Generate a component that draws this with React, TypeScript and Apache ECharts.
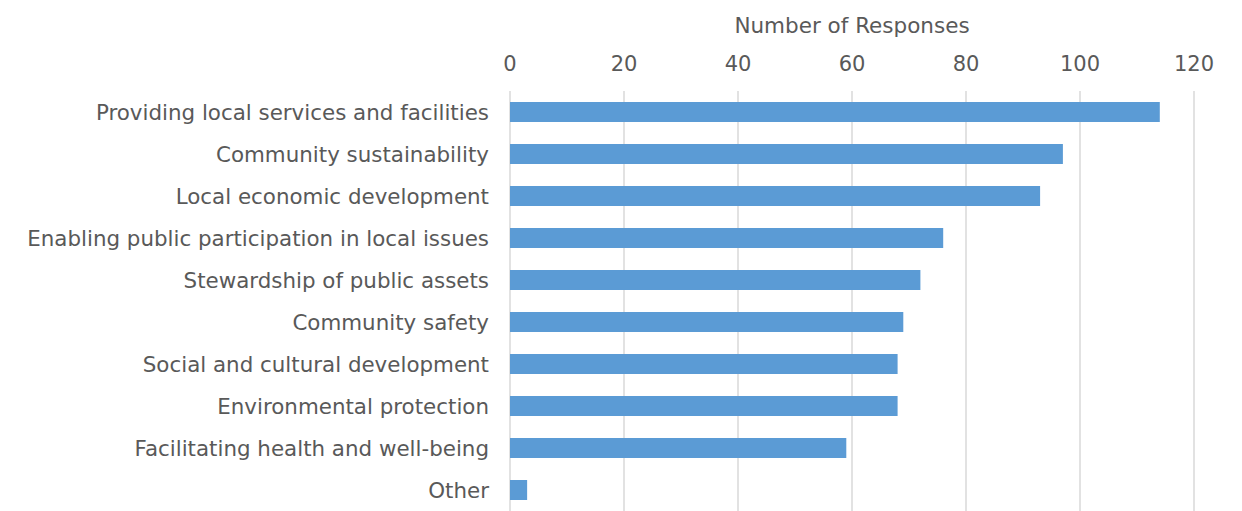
import React, { useEffect, useRef } from "react";
import * as echarts from "echarts";

const categories = [
  "Providing local services and facilities",
  "Community sustainability",
  "Local economic development",
  "Enabling public participation in local issues",
  "Stewardship of public assets",
  "Community safety",
  "Social and cultural development",
  "Environmental protection",
  "Facilitating health and well-being",
  "Other",
];
const responses = [114, 97, 93, 76, 72, 69, 68, 68, 59, 3];
const axisTitle = "Number of Responses";

export default function App() {
  const ref = useRef<HTMLDivElement>(null);
  useEffect(() => {
    if (!ref.current) return;
    const chart = echarts.init(ref.current, null, { renderer: "svg" });
    chart.setOption({
      animation: false,
      backgroundColor: "#ffffff",
      textStyle: { fontFamily: "DejaVu Sans, sans-serif" },
      grid: { left: 510, right: 48, top: 91, height: 424, containLabel: false },
      xAxis: {
        type: "value",
        position: "top",
        min: 0,
        max: 120,
        interval: 20,
        name: axisTitle,
        nameLocation: "middle",
        nameGap: 55,
        nameTextStyle: { fontSize: 21.5, color: "#595959" },
        axisLine: { show: false },
        axisTick: { show: false },
        axisLabel: { fontSize: 21, color: "#595959", margin: 17 },
        splitLine: { lineStyle: { color: "#D9D9D9", width: 1.5 } },
      },
      yAxis: {
        type: "category",
        inverse: true,
        data: categories,
        axisLine: { show: false },
        axisTick: { show: false },
        axisLabel: { fontSize: 21.4, color: "#595959", margin: 21 },
        splitLine: { show: false },
      },
      series: [
        {
          type: "bar",
          data: responses,
          barWidth: 20,
          itemStyle: { color: "#5B9BD5" },
        },
      ],
    });
    return () => chart.dispose();
  }, []);
  return (
    <div
      ref={ref}
      style={{ position: "fixed", left: 0, top: 0, width: 1242, height: 511 }}
    />
  );
}
